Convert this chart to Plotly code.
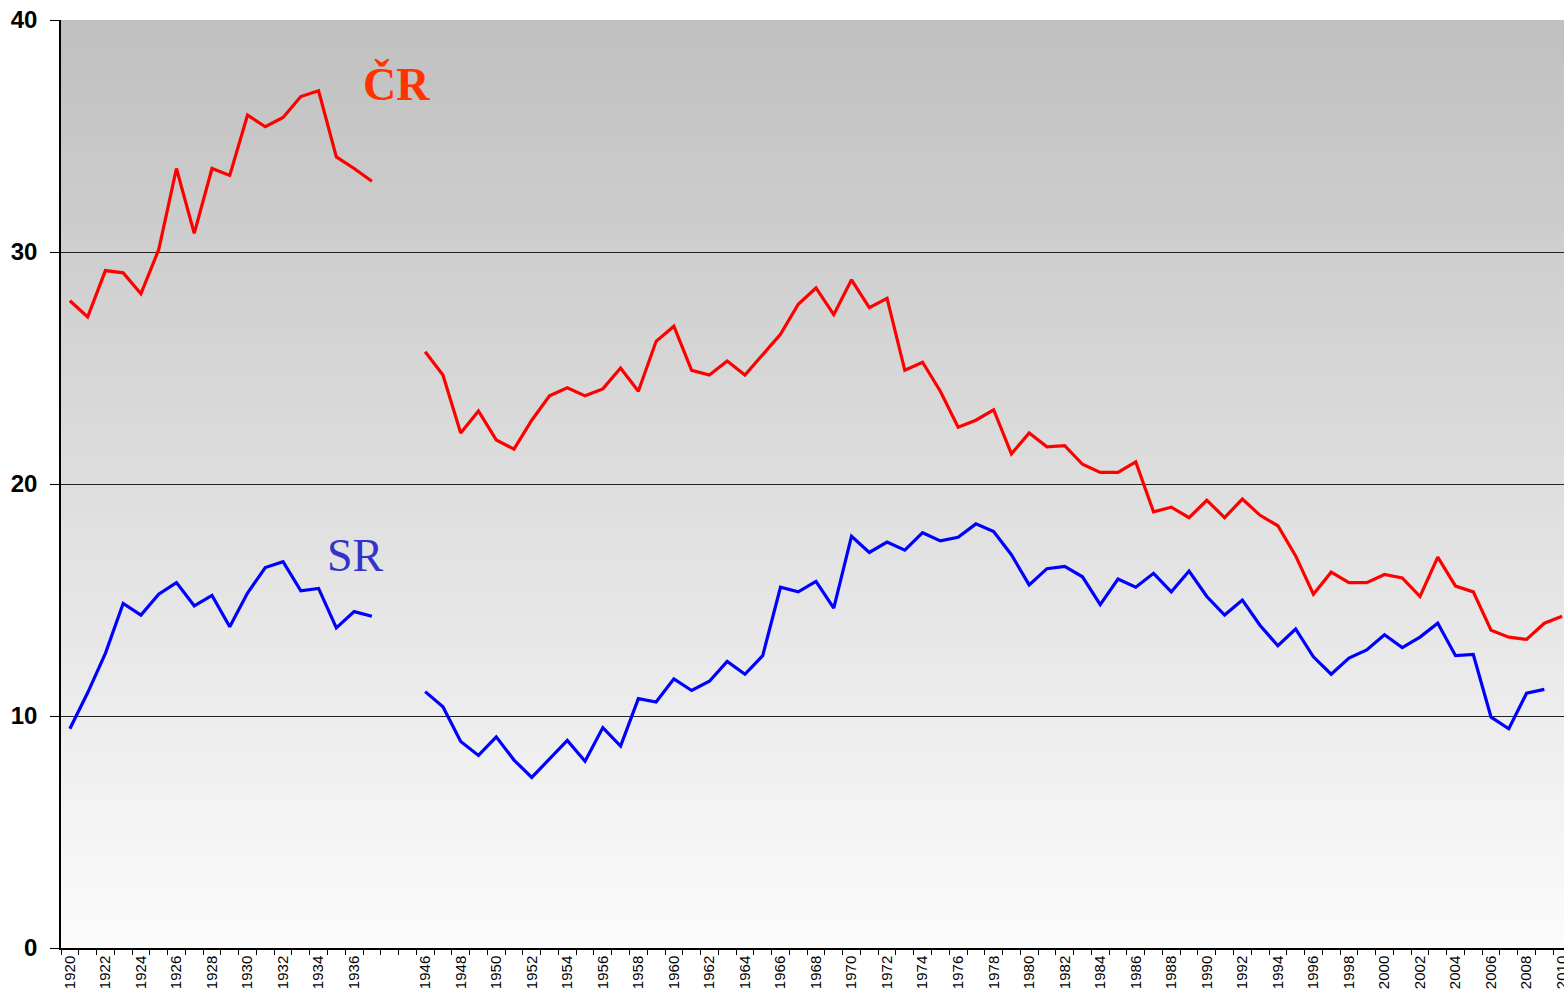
import plotly.graph_objects as go

# ---- data ----
years_pre = [str(y) for y in range(1920, 1938)]
gap_cats = ["1938", "1939"]          # empty categories between the two periods
years_post = [str(y) for y in range(1946, 2011)]

cr_pre = [27.9, 27.2, 29.2, 29.1, 28.2, 30.1, 33.6, 30.8, 33.6, 33.3,
          35.9, 35.4, 35.8, 36.7, 36.95, 34.1, 33.6, 33.05]
sr_pre = [9.45, 11.0, 12.7, 14.85, 14.35, 15.25, 15.75, 14.75, 15.2, 13.85,
          15.3, 16.4, 16.65, 15.4, 15.5, 13.8, 14.5, 14.3]

cr_post = [25.7, 24.7, 22.2, 23.15, 21.9, 21.5, 22.75, 23.8, 24.15, 23.8,   # 1946-1955
           24.1, 25.0, 24.0, 26.15, 26.8, 24.9, 24.7, 25.3, 24.7, 25.55,    # 1956-1965
           26.45, 27.75, 28.45, 27.3, 28.8, 27.6, 28.0, 24.9, 25.25, 24.0,  # 1966-1975
           22.45, 22.75, 23.2, 21.3, 22.2, 21.6, 21.65, 20.85, 20.5, 20.5,  # 1976-1985
           20.95, 18.8, 19.0, 18.55, 19.3, 18.55, 19.35, 18.65, 18.2, 16.9, # 1986-1995
           15.25, 16.2, 15.75, 15.75, 16.1, 15.95, 15.15, 16.85, 15.6, 15.35,  # 1996-2005
           13.7, 13.4, 13.3, 14.0, 14.3]                                    # 2006-2010
sr_post = [11.05, 10.4, 8.9, 8.3, 9.1, 8.1, 7.35, 8.15, 8.95, 8.05,         # 1946-1955
           9.5, 8.7, 10.75, 10.6, 11.6, 11.1, 11.5, 12.35, 11.8, 12.6,      # 1956-1965
           15.55, 15.35, 15.8, 14.65, 17.75, 17.05, 17.5, 17.15, 17.9, 17.55,  # 1966-1975
           17.7, 18.28, 17.95, 16.95, 15.65, 16.35, 16.45, 16.0, 14.8, 15.9,   # 1976-1985
           15.55, 16.15, 15.35, 16.25, 15.15, 14.35, 15.0, 13.9, 13.03, 13.75, # 1986-1995
           12.55, 11.8, 12.5, 12.85, 13.5, 12.95, 13.4, 14.0, 12.6, 12.65,     # 1996-2005
           9.95, 9.45, 10.98, 11.15, None]                                  # 2006-2010

y_ticks = [0, 10, 20, 30, 40]

# ---- build ----
categories = years_pre + gap_cats + years_post
cr = cr_pre + [None, None] + cr_post
sr = sr_pre + [None, None] + sr_post

tick_text = []
for i, c in enumerate(categories):
    if c in gap_cats or i % 2 == 1:
        tick_text.append("")
    else:
        tick_text.append(c)

fig = go.Figure()
fig.add_trace(go.Scatter(x=categories, y=cr, mode="lines", connectgaps=False,
                         line=dict(color="#FF0000", width=3.2), name="ČR"))
fig.add_trace(go.Scatter(x=categories, y=sr, mode="lines", connectgaps=False,
                         line=dict(color="#0000FF", width=3.2), name="SR"))

# gradient background (grey at top -> near white at bottom)
n = 80
top = (192, 192, 192)
bot = (252, 252, 253)
band = 40 / n
for k in range(n):
    y0 = band * k - (band * 0.6 if k > 0 else 0)
    y1 = band * (k + 1)
    t = (k + 0.5) / n
    col = tuple(round(bot[j] + (top[j] - bot[j]) * t) for j in range(3))
    fig.add_shape(type="rect", xref="paper", yref="y", x0=0, x1=1, y0=y0, y1=y1,
                  fillcolor="rgb(%d,%d,%d)" % col, line=dict(width=0), layer="below")

fig.add_annotation(x=18.4, y=37.2, xref="x", yref="y", text="<b>ČR</b>", showarrow=False,
                   font=dict(family="Liberation Serif, Times New Roman, serif", size=46, color="#FF3300"))
fig.add_annotation(x=16.1, y=16.9, xref="x", yref="y", text="SR", showarrow=False,
                   font=dict(family="Liberation Serif, Times New Roman, serif", size=46, color="#3333CC"))

fig.update_layout(
    width=1571, height=996,
    margin=dict(l=61, r=0, t=20, b=48),
    paper_bgcolor="white", plot_bgcolor="white",
    showlegend=False,
    font=dict(family="Liberation Sans, Arial, sans-serif", color="black"),
)
fig.update_xaxes(
    type="category", categoryorder="array", categoryarray=categories,
    tickmode="array", tickvals=categories, ticktext=tick_text,
    tickson="boundaries", ticks="outside", ticklen=5, tickcolor="black",
    tickangle=-90, tickfont=dict(size=15, family="Liberation Sans, Arial, sans-serif"),
    showline=True, linecolor="black", linewidth=1.5, showgrid=False,
    range=[-0.5, len(categories) - 0.5], automargin=False, zeroline=False,
    ticklabeloverflow="allow",
)
fig.update_yaxes(
    range=[0, 40], tickmode="array", tickvals=y_ticks,
    ticks="outside", ticklen=9, tickcolor="black", ticklabelstandoff=8,
    tickfont=dict(size=24, weight="bold", family="Liberation Sans, Arial, sans-serif"),
    showline=True, linecolor="black", linewidth=1.5,
    showgrid=True, gridcolor="#222222", gridwidth=1, zeroline=False, automargin=False,
    ticklabeloverflow="allow",
)

fig.write_html(
    "out.html",
    config={"displayModeBar": False},
    post_script="document.body.style.margin='0';document.body.style.overflow='hidden';",
)
